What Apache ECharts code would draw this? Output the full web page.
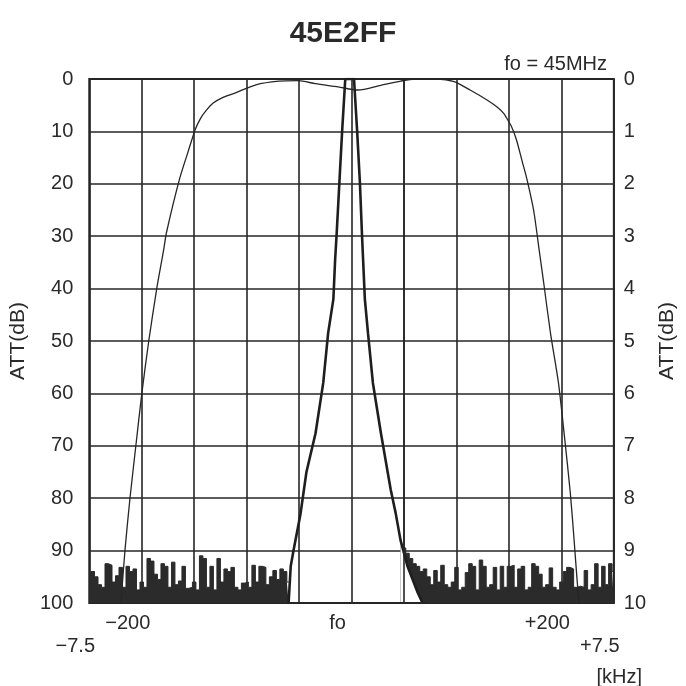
<!DOCTYPE html>
<html>
<head>
<meta charset="utf-8">
<script src="https://cdn.jsdelivr.net/npm/echarts@6/dist/echarts.min.js"></script>
<style>
html,body{margin:0;padding:0;background:#fff;}
#chart{width:686px;height:686px;}
</style>
</head>
<body>
<div id="chart"></div>
<script>
// ---- data ----
const titleText = '45E2FF';
const subTitle = 'fo = 45MHz';
const unitText = '[kHz]';
const yName = 'ATT(dB)';
const wideTicks = [-200, 0, 200];
const wideTickLabels = ['−200', 'fo', '+200'];
const narrowTicks = [-7.5, 7.5];
const narrowTickLabels = ['−7.5', '+7.5'];

// wide (thin) response: [kHz, dB]
const wideKHz = [-219.8,-216.0,-211.2,-205.6,-199.9,-193.3,-185.7,-179.1,-176.3,-164.0,-156.0,-148.9,-143.9,-138.5,-131.9,-122.5,-110.1,-91.2,-69.5,-50.6,-34.5,-12.8,6.1,27.9,46.8,60.0,81.8,97.8,113.0,129.1,138.4,145.2,147.6,152.3,157.0,163.0,166.9,173.5,179.2,183.0,189.6,197.2,202.8,208.5,212.3,215.1,217.0];
const wideDB  = [100,90,80,70,60,50,40,32.6,29.2,19.1,14.0,9.6,7.5,6.0,4.6,3.5,2.6,1.1,0.4,0.3,0.9,1.5,2.1,1.2,0.4,0,0,0.5,2.1,4.0,5.3,6.6,7.4,9.0,11.5,16.0,18.9,25,33.2,38.7,48.5,58,68,79,88.5,96,100];

// narrow (bold) response: [kHz, dB]
const narrowKHz = [-1.80,-1.74,-1.66,-1.46,-1.29,-1.03,-0.81,-0.67,-0.52,-0.47,-0.43,-0.35,-0.27,-0.18,0.07,0.16,0.24,0.30,0.33,0.38,0.47,0.61,0.84,1.12,1.26,1.40,1.60,1.89,2.03];
const narrowDB  = [100,93,90,83,75,67.6,58,48.5,42,34.5,30,20,10,0,0,10,20,30,34.5,42,48.5,58,67.6,78.4,82.8,88,93,98,100];
// part of the narrow skirt below which the plot stays clear of the dark noise band
const skirtKHz = [1.40,1.60,1.89,2.03];
const skirtDB  = [88,93,98,100];

// noise floor, sampled every 0.1 kHz on the ±7.5 kHz scale (upper edge of the dark band)
const noiseStep = 0.1;
const noiseLeftStart = -7.5;
const noiseLeft = [94.5,94,95,96.5,97,92.5,92.8,96,94.8,93.2,97,93,94,93.5,97.5,96,97,91.5,92,94.5,95.5,92.5,93,97,92.2,96.5,95.8,93,97.2,97,96,97.5,91,91.5,97,93,97.5,91.5,96,93.5,94,93.2,97,97.5,96.2,96,97,92.8,96,93,93.2,96.5,95,93.8,95.5,93.5,94,96];
const noiseRightStart = 1.4;
const noiseRight = [88,89.5,90.5,91.5,92.5,93,94,93.5,95,96.5,93.8,96,92.8,96.5,97,96,93.2,97.5,97,94.2,92.5,93,97.5,91.8,93,97,96.5,93.2,97.5,93,97,93,92.8,97,93.5,93,97.5,97,92.5,93,94.5,97,96.5,93.3,97,97.5,96,94,93.2,93.5,97,96.8,97,93.8,97.5,96.5,92.5,97,93,96.5,92.5,94];

// ---- build ----
const pairs = (xs, ys) => xs.map((x, i) => [x, ys[i]]);
const sampled = (start, vals) => vals.map((v, i) => [+(start + i * noiseStep).toFixed(2), v]);

const FONT = 'Liberation Sans';
const TXT = '#2a2a2a';
const LINE = '#262626';
const NOISE = '#2b2b2b';

const noiseSeries = (name, data) => ({
  name, type: 'line', xAxisIndex: 1, yAxisIndex: 0, data,
  step: 'middle', symbol: 'none',
  lineStyle: {color: NOISE, width: 1},
  areaStyle: {color: NOISE, opacity: 1, origin: 'end'}
});

const chart = echarts.init(document.getElementById('chart'), null, {renderer: 'canvas'});
chart.setOption({
  backgroundColor: '#ffffff',
  animation: false,
  title: [
    {text: titleText, left: 'center', top: 14, textStyle: {fontFamily: FONT, fontWeight: 'bold', fontSize: 30, color: TXT}},
    {text: subTitle, right: 74, top: 49, textStyle: {fontFamily: FONT, fontWeight: 'normal', fontSize: 20, color: TXT}},
    {text: unitText, right: 39, top: 662, textStyle: {fontFamily: FONT, fontWeight: 'normal', fontSize: 20, color: TXT}}
  ],
  grid: {left: 89, right: 68, top: 79, bottom: 83, show: true, borderColor: LINE, borderWidth: 2, backgroundColor: 'transparent'},
  xAxis: [
    {
      type: 'value', min: -250, max: 250, interval: 50, position: 'bottom',
      axisLine: {show: false}, axisTick: {show: false},
      splitLine: {show: true, lineStyle: {color: LINE, width: 1.6}},
      axisLabel: {
        customValues: wideTicks, margin: 10, fontFamily: FONT, fontSize: 20, color: TXT,
        padding: [0, 28, 0, 0],
        formatter: v => wideTickLabels[wideTicks.indexOf(v)]
      }
    },
    {
      type: 'value', min: -7.5, max: 7.5, position: 'bottom',
      axisLine: {show: false}, axisTick: {show: false}, splitLine: {show: false},
      axisLabel: {
        customValues: narrowTicks, margin: 33, fontFamily: FONT, fontSize: 20, color: TXT,
        padding: [0, 28, 0, 0], showMinLabel: true, showMaxLabel: true,
        formatter: v => narrowTickLabels[narrowTicks.indexOf(v)]
      }
    }
  ],
  yAxis: [
    {
      type: 'value', min: 0, max: 100, interval: 10, inverse: true, position: 'left',
      name: yName, nameLocation: 'middle', nameGap: 45, nameRotate: 90,
      nameTextStyle: {fontFamily: FONT, fontSize: 21, color: TXT},
      axisLine: {show: false}, axisTick: {show: false},
      splitLine: {show: true, lineStyle: {color: LINE, width: 1.6}},
      axisLabel: {margin: 16, fontFamily: FONT, fontSize: 20, color: TXT}
    },
    {
      type: 'value', min: 0, max: 10, interval: 1, inverse: true, position: 'right',
      name: yName, nameLocation: 'middle', nameGap: 40, nameRotate: 90,
      nameTextStyle: {fontFamily: FONT, fontSize: 21, color: TXT},
      axisLine: {show: false}, axisTick: {show: false}, splitLine: {show: false},
      axisLabel: {margin: 10, fontFamily: FONT, fontSize: 20, color: TXT}
    }
  ],
  series: [
    noiseSeries('noiseLeft', sampled(noiseLeftStart, noiseLeft)),
    noiseSeries('noiseRight', sampled(noiseRightStart, noiseRight)),
    {
      name: 'skirtClear', type: 'line', xAxisIndex: 1, yAxisIndex: 0, data: pairs(skirtKHz, skirtDB),
      symbol: 'none', silent: true,
      lineStyle: {width: 0, opacity: 0},
      areaStyle: {color: '#ffffff', opacity: 1, origin: 'end'},
      markLine: {
        silent: true, symbol: ['none', 'none'], label: {show: false},
        lineStyle: {color: LINE, width: 1.6, type: 'solid'},
        data: [
          {xAxis: 1.5},
          [{coord: [1.3, 100], lineStyle: {width: 2}}, {coord: [2.2, 100]}]
        ]
      }
    },
    {
      name: 'wide', type: 'line', xAxisIndex: 0, yAxisIndex: 0, data: pairs(wideKHz, wideDB),
      smooth: 0.25, symbol: 'none', lineStyle: {color: LINE, width: 1.3}
    },
    {
      name: 'narrow', type: 'line', xAxisIndex: 1, yAxisIndex: 0, data: pairs(narrowKHz, narrowDB),
      smooth: false, symbol: 'none', lineStyle: {color: '#1e1e1e', width: 2.6}
    }
  ]
});
</script>
</body>
</html>
